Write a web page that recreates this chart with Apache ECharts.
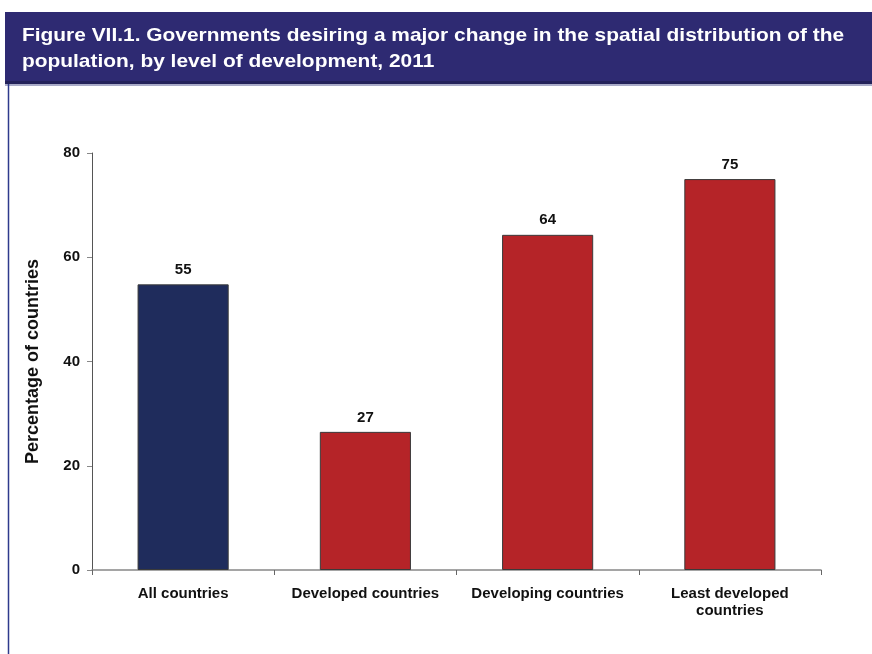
<!DOCTYPE html>
<html>
<head>
<meta charset="utf-8">
<script src="https://cdn.jsdelivr.net/npm/echarts@6/dist/echarts.min.js"></script>
<style>html,body{margin:0;padding:0;background:#fff}#c{width:872px;height:654px}</style>
</head>
<body>
<div id="c"></div>
<script>
const categories = ['All countries', 'Developed countries', 'Developing countries', 'Least developed\ncountries'];
const values = [54.8, 26.5, 64.3, 75.0];
const labels = ['55', '27', '64', '75'];
const barColors = ['#1f2c5c', '#b52428', '#b52428', '#b52428'];
const yTicks = [0, 20, 40, 60, 80];
const titleText = 'Figure VII.1. Governments desiring a major change in the spatial distribution of the\npopulation, by level of development, 2011';

const FONT = 'Liberation Sans, Arial, sans-serif';
const chart = echarts.init(document.getElementById('c'));
chart.setOption({
  animation: false,
  backgroundColor: '#fff',
  graphic: [
    { type: 'rect', shape: { x: 5, y: 12, width: 867, height: 72 }, style: { fill: '#2e2a72' }, z: -1 },
    { type: 'rect', shape: { x: 5, y: 81, width: 867, height: 3 }, style: { fill: '#23225a' }, z: -1 },
    { type: 'rect', shape: { x: 5, y: 84, width: 867, height: 2 }, style: { fill: '#a9abc8' }, z: -1 },
    { type: 'line', shape: { x1: 8.5, y1: 84, x2: 8.5, y2: 654 }, style: { stroke: '#2e3a8c', lineWidth: 1.5 } },
    { type: 'text', x: 22, y: 23, scaleX: 1.1, z: 10,
      style: { text: titleText, fill: '#fff', font: 'bold 19px ' + FONT, lineHeight: 26 } }
  ],
  grid: { left: 92, right: 51, top: 153, bottom: 84, containLabel: false },
  xAxis: {
    type: 'category',
    data: categories,
    axisLine: { lineStyle: { color: '#888', width: 1.5 } },
    axisTick: { show: true, alignWithLabel: false, length: 5, lineStyle: { color: '#666' } },
    axisLabel: { color: '#111', fontFamily: FONT, fontWeight: 'bold', fontSize: 15, lineHeight: 17, margin: 15, interval: 0 }
  },
  yAxis: {
    type: 'value', min: 0, max: 80, interval: 20,
    name: 'Percentage of countries',
    nameLocation: 'middle', nameGap: 50, nameRotate: 90,
    nameTextStyle: { color: '#111', fontFamily: FONT, fontWeight: 'bold', fontSize: 18 },
    axisLine: { show: true, lineStyle: { color: '#555', width: 1 } },
    axisTick: { show: true, length: 5, lineStyle: { color: '#888' } },
    axisLabel: { color: '#111', fontFamily: FONT, fontWeight: 'bold', fontSize: 15, margin: 12,
      formatter: v => yTicks.includes(v) ? String(v) : '' },
    splitLine: { show: false }
  },
  series: [{
    type: 'bar',
    barWidth: '50%',
    data: values.map((v, i) => ({ value: v, itemStyle: { color: barColors[i], borderColor: '#3a3a3a', borderWidth: 1 } })),
    label: {
      show: true, position: 'top', distance: 7,
      color: '#111', fontFamily: FONT, fontWeight: 'bold', fontSize: 15,
      formatter: p => labels[p.dataIndex]
    }
  }]
});
</script>
</body>
</html>
